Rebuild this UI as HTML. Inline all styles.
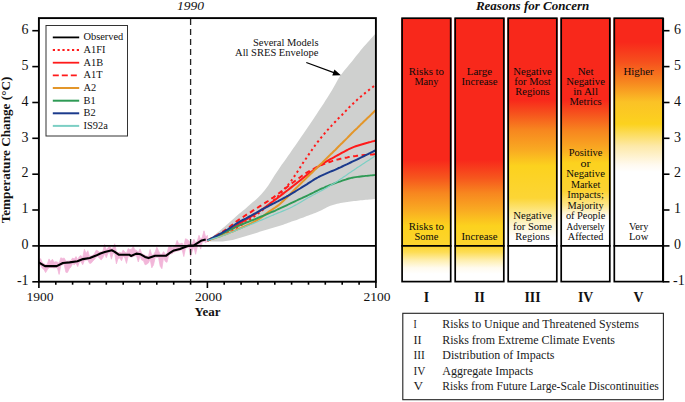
<!DOCTYPE html>
<html><head><meta charset="utf-8"><style>
html,body{margin:0;padding:0;background:#fff;width:685px;height:402px;overflow:hidden}
svg{display:block;font-family:"Liberation Serif",serif}
</style></head><body>
<svg width="685" height="402" viewBox="0 0 685 402">
<defs><linearGradient id="g0" gradientUnits="userSpaceOnUse" x1="0" y1="18" x2="0" y2="246"><stop offset="0.0000" stop-color="#f8281b"/><stop offset="0.6228" stop-color="#f8281b"/><stop offset="0.7018" stop-color="#f6561d"/><stop offset="0.7675" stop-color="#f7861f"/><stop offset="0.8421" stop-color="#f9aa22"/><stop offset="0.9123" stop-color="#fcd21e"/><stop offset="1.0000" stop-color="#fcd52e"/></linearGradient>
<linearGradient id="g1" gradientUnits="userSpaceOnUse" x1="0" y1="18" x2="0" y2="246"><stop offset="0.0000" stop-color="#f8281b"/><stop offset="0.6228" stop-color="#f8281b"/><stop offset="0.7018" stop-color="#f6561d"/><stop offset="0.7675" stop-color="#f7861f"/><stop offset="0.8421" stop-color="#f9aa22"/><stop offset="0.9123" stop-color="#fcd21e"/><stop offset="1.0000" stop-color="#fcd52e"/></linearGradient>
<linearGradient id="g2" gradientUnits="userSpaceOnUse" x1="0" y1="18" x2="0" y2="246"><stop offset="0.0000" stop-color="#f8281b"/><stop offset="0.3596" stop-color="#f8281b"/><stop offset="0.4167" stop-color="#f6501d"/><stop offset="0.4912" stop-color="#f7861f"/><stop offset="0.5789" stop-color="#f9aa22"/><stop offset="0.6491" stop-color="#fcd21e"/><stop offset="0.7895" stop-color="#fcd535"/><stop offset="0.8509" stop-color="#fde88a"/><stop offset="0.9123" stop-color="#fef6d6"/><stop offset="0.9649" stop-color="#ffffff"/><stop offset="1.0000" stop-color="#ffffff"/></linearGradient>
<linearGradient id="g3" gradientUnits="userSpaceOnUse" x1="0" y1="18" x2="0" y2="246"><stop offset="0.0000" stop-color="#f8281b"/><stop offset="0.3596" stop-color="#f8281b"/><stop offset="0.4167" stop-color="#f6501d"/><stop offset="0.4956" stop-color="#f7861f"/><stop offset="0.5746" stop-color="#f9aa22"/><stop offset="0.6360" stop-color="#fcd21e"/><stop offset="0.7588" stop-color="#fcd232"/><stop offset="0.8202" stop-color="#fde68a"/><stop offset="0.8684" stop-color="#fffaee"/><stop offset="0.8947" stop-color="#ffffff"/><stop offset="1.0000" stop-color="#ffffff"/></linearGradient>
<linearGradient id="g4" gradientUnits="userSpaceOnUse" x1="0" y1="18" x2="0" y2="246"><stop offset="0.0000" stop-color="#f8281b"/><stop offset="0.1053" stop-color="#f8281b"/><stop offset="0.1930" stop-color="#f6501d"/><stop offset="0.2807" stop-color="#f7861f"/><stop offset="0.3684" stop-color="#fbc226"/><stop offset="0.4649" stop-color="#fcd21e"/><stop offset="0.5614" stop-color="#fde9a8"/><stop offset="0.6447" stop-color="#fffaf0"/><stop offset="0.6754" stop-color="#ffffff"/><stop offset="1.0000" stop-color="#ffffff"/></linearGradient>
<linearGradient id="gb" gradientUnits="userSpaceOnUse" x1="0" y1="246" x2="0" y2="274"><stop offset="0" stop-color="#fcd52e"/><stop offset="0.22" stop-color="#fddd55"/><stop offset="0.5" stop-color="#feeeac"/><stop offset="0.78" stop-color="#fffbee"/><stop offset="1" stop-color="#fff"/></linearGradient></defs>
<polygon points="207.4,240.5 209.1,239.2 210.8,237.9 212.5,236.5 214.1,235.2 215.8,233.9 217.5,232.5 219.2,231.2 220.9,229.8 222.6,228.3 224.2,226.9 225.9,225.4 227.6,223.9 229.3,222.4 231.0,220.9 232.7,219.4 234.4,217.9 236.0,216.5 237.7,215.1 239.4,213.6 241.1,212.2 242.8,210.8 244.5,209.4 246.2,207.9 247.8,206.5 249.5,205.0 251.2,203.6 252.9,202.1 254.6,200.7 256.3,199.2 257.9,197.7 259.6,196.0 261.3,194.3 263.0,192.3 264.7,190.2 266.4,188.0 268.1,185.7 269.7,183.2 271.4,180.5 273.1,177.7 274.8,175.0 276.5,172.4 278.2,169.9 279.9,167.5 281.5,165.1 283.2,162.8 284.9,160.4 286.6,158.0 288.3,155.6 290.0,153.2 291.6,150.7 293.3,148.3 295.0,145.9 296.7,143.4 298.4,141.0 300.1,138.6 301.8,136.1 303.4,133.7 305.1,131.2 306.8,128.7 308.5,126.2 310.2,123.7 311.9,121.2 313.6,118.7 315.2,116.2 316.9,113.7 318.6,111.1 320.3,108.6 322.0,106.0 323.7,103.4 325.3,100.8 327.0,98.2 328.7,95.5 330.4,92.8 332.1,89.9 333.8,87.0 335.5,83.9 337.1,81.0 338.8,78.1 340.5,75.6 342.2,73.2 343.9,71.0 345.6,68.9 347.3,66.9 348.9,64.9 350.6,62.9 352.3,60.9 354.0,58.8 355.7,56.6 357.4,54.5 359.1,52.4 360.7,50.3 362.4,48.3 364.1,46.3 365.8,44.4 367.5,42.5 369.2,40.7 370.8,38.8 372.5,37.0 374.2,35.1 375.9,33.3 375.9,198.9 374.2,199.1 372.5,199.2 370.8,199.4 369.2,199.5 367.5,199.7 365.8,199.8 364.1,200.0 362.4,200.2 360.7,200.3 359.1,200.5 357.4,200.7 355.7,200.9 354.0,201.1 352.3,201.3 350.6,201.5 348.9,201.8 347.3,202.0 345.6,202.3 343.9,202.5 342.2,202.8 340.5,203.1 338.8,203.5 337.1,203.8 335.5,204.2 333.8,204.7 332.1,205.2 330.4,205.8 328.7,206.5 327.0,207.3 325.3,208.2 323.7,209.1 322.0,209.9 320.3,210.7 318.6,211.5 316.9,212.2 315.2,212.9 313.6,213.5 311.9,214.2 310.2,214.8 308.5,215.5 306.8,216.1 305.1,216.8 303.4,217.4 301.8,218.0 300.1,218.6 298.4,219.3 296.7,219.9 295.0,220.5 293.3,221.0 291.6,221.6 290.0,222.2 288.3,222.8 286.6,223.5 284.9,224.1 283.2,224.7 281.5,225.3 279.9,225.8 278.2,226.3 276.5,226.8 274.8,227.3 273.1,227.7 271.4,228.2 269.7,228.7 268.1,229.2 266.4,229.7 264.7,230.2 263.0,230.8 261.3,231.3 259.6,231.8 257.9,232.4 256.3,232.9 254.6,233.5 252.9,234.0 251.2,234.5 249.5,235.0 247.8,235.5 246.2,236.0 244.5,236.5 242.8,237.0 241.1,237.6 239.4,238.1 237.7,238.6 236.0,239.1 234.4,239.5 232.7,239.9 231.0,240.2 229.3,240.5 227.6,240.8 225.9,241.0 224.2,241.2 222.6,241.4 220.9,241.6 219.2,241.6 217.5,241.6 215.8,241.5 214.1,241.5 212.5,241.4 210.8,241.4 209.1,241.3 207.4,241.2" fill="#cfd0cf"/>
<polygon points="38.9,260.7 40.6,258.6 42.3,262.6 44.0,263.9 45.6,264.6 47.3,264.2 49.0,258.9 50.7,261.6 52.4,259.2 54.1,262.3 55.8,261.7 57.4,262.2 59.1,263.4 60.8,257.8 62.5,258.4 64.2,258.1 65.9,261.2 67.5,261.1 69.2,260.9 70.9,260.7 72.6,258.0 74.3,259.1 76.0,256.6 77.7,259.7 79.3,256.5 81.0,255.5 82.7,257.7 84.4,249.2 86.1,253.6 87.8,250.7 89.5,256.6 91.1,256.0 92.8,255.3 94.5,253.8 96.2,250.2 97.9,250.9 99.6,252.4 101.2,251.7 102.9,251.2 104.6,244.5 106.3,250.2 108.0,247.5 109.7,246.3 111.4,248.9 113.0,247.9 114.7,243.8 116.4,251.5 118.1,252.8 119.8,252.3 121.5,253.2 123.2,249.9 124.8,252.1 126.5,253.2 128.2,248.6 129.9,249.7 131.6,249.2 133.3,246.4 134.9,250.0 136.6,250.4 138.3,252.4 140.0,248.9 141.7,253.4 143.4,254.4 145.1,255.4 146.7,256.0 148.4,256.6 150.1,249.5 151.8,255.3 153.5,254.7 155.2,252.0 156.8,247.2 158.5,250.7 160.2,254.3 161.9,254.3 163.6,251.6 165.3,254.3 167.0,253.5 168.6,247.1 170.3,245.4 172.0,248.1 173.7,246.7 175.4,245.5 177.1,240.4 178.8,243.9 180.4,243.8 182.1,243.1 183.8,245.9 185.5,238.8 187.2,239.5 188.9,240.9 190.6,244.2 192.2,244.0 193.9,239.2 195.6,242.8 197.3,241.2 199.0,235.3 200.7,239.6 202.3,237.2 204.0,230.8 205.7,237.2 207.4,235.3 207.4,240.9 205.7,242.8 204.0,241.3 202.3,241.7 200.7,249.1 199.0,243.6 197.3,246.8 195.6,254.3 193.9,246.8 192.2,250.9 190.6,256.4 188.9,247.3 187.2,247.6 185.5,248.3 183.8,256.5 182.1,249.5 180.4,250.2 178.8,250.7 177.1,251.1 175.4,251.5 173.7,252.3 172.0,253.7 170.3,254.1 168.6,255.3 167.0,262.3 165.3,261.5 163.6,257.3 161.9,268.7 160.2,266.2 158.5,257.3 156.8,257.3 155.2,257.6 153.5,264.9 151.8,267.8 150.1,259.0 148.4,263.0 146.7,264.2 145.1,264.8 143.4,260.5 141.7,260.1 140.0,255.7 138.3,261.9 136.6,256.0 134.9,255.7 133.3,256.5 131.6,257.2 129.9,256.7 128.2,256.2 126.5,263.4 124.8,257.7 123.2,256.2 121.5,260.8 119.8,257.9 118.1,258.4 116.4,263.9 114.7,253.3 113.0,253.5 111.4,259.2 109.7,252.3 108.0,253.1 106.3,257.7 104.6,253.7 102.9,257.6 101.2,259.9 99.6,258.5 97.9,256.5 96.2,257.0 94.5,259.4 92.8,261.0 91.1,263.2 89.5,263.3 87.8,259.8 86.1,260.1 84.4,260.4 82.7,264.7 81.0,261.4 79.3,262.1 77.7,266.6 76.0,263.0 74.3,264.7 72.6,263.6 70.9,266.9 69.2,268.8 67.5,272.4 65.9,272.3 64.2,264.4 62.5,264.7 60.8,265.5 59.1,274.4 57.4,267.8 55.8,267.6 54.1,267.9 52.4,267.6 50.7,267.6 49.0,267.6 47.3,269.8 45.6,272.6 44.0,269.5 42.3,268.2 40.6,265.0 38.9,266.3" fill="#f2b6d9" stroke="#f2b6d9" stroke-width="0.8" stroke-linejoin="round"/>
<polyline points="38.8,262.4 41.6,264.1 45.0,266.1 56.7,266.1 62.9,263.0 69.6,262.4 77.4,261.3 83.0,259.1 89.8,258.0 96.0,255.6 100.4,253.5 104.8,252.1 111.8,250.3 114.4,251.6 118.7,254.7 129.3,254.7 131.0,256.0 136.3,253.6 140.7,254.3 145.0,256.9 148.5,258.1 152.9,256.4 155.0,255.8 165.9,255.8 169.9,252.9 173.9,250.4 179.9,248.9 183.8,247.4 187.8,245.9 193.8,245.4 197.8,242.9 201.7,240.4 205.7,239.4" fill="none" stroke="#000" stroke-width="2.1" stroke-linejoin="round"/>
<polyline points="207.4,240.5 209.1,239.9 210.8,239.3 212.5,238.7 214.1,238.0 215.8,237.4 217.5,236.8 219.2,236.2 220.9,235.5 222.6,234.8 224.2,234.1 225.9,233.3 227.6,232.5 229.3,231.7 231.0,230.8 232.7,229.9 234.4,229.0 236.0,228.0 237.7,227.1 239.4,226.1 241.1,225.1 242.8,224.1 244.5,223.0 246.2,221.9 247.8,220.8 249.5,219.7 251.2,218.5 252.9,217.3 254.6,216.1 256.3,214.9 257.9,213.6 259.6,212.3 261.3,211.0 263.0,209.7 264.7,208.3 266.4,206.9 268.1,205.4 269.7,203.9 271.4,202.4 273.1,200.9 274.8,199.3 276.5,197.6 278.2,195.9 279.9,194.1 281.5,192.3 283.2,190.4 284.9,188.5 286.6,186.6 288.3,184.6 290.0,182.5 291.6,180.3 293.3,177.9 295.0,175.4 296.7,172.8 298.4,170.2 300.1,167.5 301.8,164.9 303.4,162.3 305.1,159.9 306.8,157.4 308.5,154.9 310.2,152.4 311.9,150.0 313.6,147.6 315.2,145.3 316.9,143.0 318.6,140.8 320.3,138.7 322.0,136.6 323.7,134.6 325.3,132.6 327.0,130.7 328.7,128.8 330.4,126.9 332.1,125.1 333.8,123.3 335.5,121.5 337.1,119.7 338.8,118.1 340.5,116.4 342.2,114.7 343.9,112.9 345.6,111.1 347.3,109.4 348.9,107.6 350.6,105.9 352.3,104.3 354.0,102.7 355.7,101.1 357.4,99.6 359.1,98.2 360.7,96.7 362.4,95.3 364.1,93.9 365.8,92.5 367.5,91.2 369.2,89.8 370.8,88.5 372.5,87.2 374.2,85.9 375.9,84.5" fill="none" stroke="#ff1a1a" stroke-width="2.0" stroke-linecap="butt" stroke-linejoin="round" stroke-dasharray="2.2,3.0"/>
<polyline points="207.4,240.5 209.1,239.7 210.8,239.0 212.5,238.2 214.1,237.5 215.8,236.7 217.5,235.9 219.2,235.1 220.9,234.3 222.6,233.5 224.2,232.6 225.9,231.7 227.6,230.8 229.3,229.8 231.0,228.8 232.7,227.8 234.4,226.8 236.0,225.7 237.7,224.7 239.4,223.7 241.1,222.7 242.8,221.6 244.5,220.6 246.2,219.6 247.8,218.6 249.5,217.6 251.2,216.5 252.9,215.5 254.6,214.4 256.3,213.3 257.9,212.2 259.6,211.1 261.3,209.9 263.0,208.7 264.7,207.5 266.4,206.3 268.1,205.0 269.7,203.8 271.4,202.5 273.1,201.3 274.8,200.0 276.5,198.7 278.2,197.5 279.9,196.2 281.5,194.9 283.2,193.6 284.9,192.3 286.6,191.0 288.3,189.7 290.0,188.4 291.6,187.1 293.3,185.8 295.0,184.4 296.7,183.1 298.4,181.8 300.1,180.4 301.8,179.1 303.4,177.7 305.1,176.4 306.8,175.1 308.5,173.8 310.2,172.5 311.9,171.3 313.6,170.0 315.2,168.7 316.9,167.5 318.6,166.3 320.3,165.2 322.0,164.1 323.7,163.1 325.3,162.1 327.0,161.1 328.7,160.1 330.4,159.2 332.1,158.3 333.8,157.4 335.5,156.4 337.1,155.5 338.8,154.6 340.5,153.7 342.2,152.7 343.9,151.8 345.6,150.9 347.3,150.0 348.9,149.1 350.6,148.3 352.3,147.6 354.0,146.9 355.7,146.3 357.4,145.7 359.1,145.2 360.7,144.7 362.4,144.2 364.1,143.7 365.8,143.2 367.5,142.8 369.2,142.3 370.8,141.9 372.5,141.4 374.2,141.0 375.9,140.5" fill="none" stroke="#ff1a1a" stroke-width="2.0" stroke-linecap="butt" stroke-linejoin="round"/>
<polyline points="207.4,240.5 209.1,239.6 210.8,238.6 212.5,237.7 214.1,236.8 215.8,235.8 217.5,234.9 219.2,233.9 220.9,232.9 222.6,231.9 224.2,230.8 225.9,229.7 227.6,228.5 229.3,227.2 231.0,225.8 232.7,224.5 234.4,223.2 236.0,221.8 237.7,220.6 239.4,219.4 241.1,218.2 242.8,217.1 244.5,216.0 246.2,214.9 247.8,213.9 249.5,212.8 251.2,211.8 252.9,210.7 254.6,209.7 256.3,208.6 257.9,207.5 259.6,206.4 261.3,205.4 263.0,204.3 264.7,203.2 266.4,202.1 268.1,201.0 269.7,199.9 271.4,198.7 273.1,197.6 274.8,196.4 276.5,195.2 278.2,193.9 279.9,192.6 281.5,191.3 283.2,190.0 284.9,188.7 286.6,187.4 288.3,186.0 290.0,184.8 291.6,183.5 293.3,182.3 295.0,181.0 296.7,179.7 298.4,178.5 300.1,177.3 301.8,176.0 303.4,174.9 305.1,173.7 306.8,172.7 308.5,171.7 310.2,170.7 311.9,169.8 313.6,168.9 315.2,168.0 316.9,167.1 318.6,166.3 320.3,165.5 322.0,164.8 323.7,164.1 325.3,163.4 327.0,162.8 328.7,162.2 330.4,161.7 332.1,161.1 333.8,160.6 335.5,160.1 337.1,159.6 338.8,159.2 340.5,158.8 342.2,158.4 343.9,158.0 345.6,157.7 347.3,157.4 348.9,157.0 350.6,156.7 352.3,156.5 354.0,156.2 355.7,156.0 357.4,155.7 359.1,155.5 360.7,155.4 362.4,155.2 364.1,155.0 365.8,154.9 367.5,154.8 369.2,154.6 370.8,154.5 372.5,154.4 374.2,154.2 375.9,154.1" fill="none" stroke="#ff1a1a" stroke-width="2.0" stroke-linecap="butt" stroke-linejoin="round" stroke-dasharray="5,3.5"/>
<polyline points="207.4,240.5 209.1,240.0 210.8,239.4 212.5,238.8 214.1,238.3 215.8,237.7 217.5,237.1 219.2,236.6 220.9,236.0 222.6,235.4 224.2,234.8 225.9,234.2 227.6,233.5 229.3,232.9 231.0,232.2 232.7,231.5 234.4,230.8 236.0,230.1 237.7,229.4 239.4,228.7 241.1,228.0 242.8,227.2 244.5,226.5 246.2,225.7 247.8,225.0 249.5,224.2 251.2,223.3 252.9,222.5 254.6,221.6 256.3,220.7 257.9,219.7 259.6,218.7 261.3,217.5 263.0,216.2 264.7,214.9 266.4,213.6 268.1,212.3 269.7,211.1 271.4,210.0 273.1,208.9 274.8,207.8 276.5,206.6 278.2,205.4 279.9,204.0 281.5,202.5 283.2,200.9 284.9,199.3 286.6,197.7 288.3,196.0 290.0,194.3 291.6,192.6 293.3,190.9 295.0,189.2 296.7,187.6 298.4,185.9 300.1,184.2 301.8,182.6 303.4,180.9 305.1,179.3 306.8,177.6 308.5,176.0 310.2,174.3 311.9,172.7 313.6,171.0 315.2,169.4 316.9,167.8 318.6,166.1 320.3,164.5 322.0,162.9 323.7,161.2 325.3,159.6 327.0,157.9 328.7,156.3 330.4,154.6 332.1,153.0 333.8,151.3 335.5,149.7 337.1,148.0 338.8,146.3 340.5,144.6 342.2,143.0 343.9,141.3 345.6,139.6 347.3,137.9 348.9,136.2 350.6,134.5 352.3,132.8 354.0,131.1 355.7,129.5 357.4,127.9 359.1,126.2 360.7,124.6 362.4,123.0 364.1,121.3 365.8,119.7 367.5,118.1 369.2,116.5 370.8,114.9 372.5,113.2 374.2,111.6 375.9,110.0" fill="none" stroke="#e3962a" stroke-width="2.0" stroke-linecap="butt" stroke-linejoin="round"/>
<polyline points="207.4,240.5 209.1,239.7 210.8,238.9 212.5,238.2 214.1,237.4 215.8,236.6 217.5,235.8 219.2,235.0 220.9,234.2 222.6,233.4 224.2,232.6 225.9,231.8 227.6,231.0 229.3,230.2 231.0,229.4 232.7,228.6 234.4,227.8 236.0,227.0 237.7,226.2 239.4,225.5 241.1,224.7 242.8,224.0 244.5,223.3 246.2,222.6 247.8,222.0 249.5,221.3 251.2,220.6 252.9,220.0 254.6,219.3 256.3,218.6 257.9,217.9 259.6,217.2 261.3,216.5 263.0,215.8 264.7,215.1 266.4,214.4 268.1,213.7 269.7,213.0 271.4,212.2 273.1,211.5 274.8,210.8 276.5,210.0 278.2,209.2 279.9,208.4 281.5,207.7 283.2,206.9 284.9,206.1 286.6,205.3 288.3,204.5 290.0,203.7 291.6,202.9 293.3,202.1 295.0,201.3 296.7,200.5 298.4,199.7 300.1,198.9 301.8,198.2 303.4,197.4 305.1,196.6 306.8,195.8 308.5,195.0 310.2,194.2 311.9,193.3 313.6,192.5 315.2,191.6 316.9,190.8 318.6,190.0 320.3,189.2 322.0,188.5 323.7,187.8 325.3,187.0 327.0,186.3 328.7,185.6 330.4,184.9 332.1,184.3 333.8,183.6 335.5,183.0 337.1,182.4 338.8,181.8 340.5,181.3 342.2,180.7 343.9,180.1 345.6,179.6 347.3,179.0 348.9,178.5 350.6,178.1 352.3,177.7 354.0,177.4 355.7,177.1 357.4,176.9 359.1,176.7 360.7,176.5 362.4,176.3 364.1,176.1 365.8,175.9 367.5,175.8 369.2,175.6 370.8,175.4 372.5,175.3 374.2,175.1 375.9,174.9" fill="none" stroke="#2e9a55" stroke-width="1.9" stroke-linecap="butt" stroke-linejoin="round"/>
<polyline points="207.4,240.5 209.1,239.6 210.8,238.8 212.5,237.9 214.1,237.0 215.8,236.1 217.5,235.3 219.2,234.4 220.9,233.5 222.6,232.5 224.2,231.6 225.9,230.5 227.6,229.5 229.3,228.4 231.0,227.3 232.7,226.1 234.4,225.0 236.0,223.9 237.7,222.9 239.4,221.9 241.1,220.9 242.8,220.0 244.5,219.1 246.2,218.3 247.8,217.4 249.5,216.5 251.2,215.6 252.9,214.6 254.6,213.7 256.3,212.8 257.9,211.8 259.6,210.9 261.3,209.9 263.0,209.0 264.7,208.1 266.4,207.2 268.1,206.3 269.7,205.4 271.4,204.5 273.1,203.7 274.8,202.8 276.5,201.9 278.2,201.1 279.9,200.2 281.5,199.3 283.2,198.4 284.9,197.5 286.6,196.5 288.3,195.6 290.0,194.6 291.6,193.6 293.3,192.6 295.0,191.6 296.7,190.5 298.4,189.5 300.1,188.5 301.8,187.4 303.4,186.4 305.1,185.3 306.8,184.3 308.5,183.2 310.2,182.1 311.9,181.0 313.6,179.9 315.2,178.9 316.9,178.0 318.6,177.0 320.3,176.2 322.0,175.4 323.7,174.6 325.3,173.9 327.0,173.1 328.7,172.4 330.4,171.7 332.1,171.0 333.8,170.3 335.5,169.6 337.1,168.8 338.8,168.0 340.5,167.3 342.2,166.5 343.9,165.7 345.6,164.9 347.3,164.1 348.9,163.3 350.6,162.5 352.3,161.7 354.0,160.9 355.7,160.1 357.4,159.3 359.1,158.5 360.7,157.6 362.4,156.8 364.1,156.0 365.8,155.1 367.5,154.3 369.2,153.5 370.8,152.6 372.5,151.8 374.2,151.0 375.9,150.2" fill="none" stroke="#1b3a8c" stroke-width="2.0" stroke-linecap="butt" stroke-linejoin="round"/>
<polyline points="207.4,240.5 209.1,240.0 210.8,239.5 212.5,238.9 214.1,238.4 215.8,237.9 217.5,237.4 219.2,236.8 220.9,236.3 222.6,235.7 224.2,235.1 225.9,234.5 227.6,233.9 229.3,233.2 231.0,232.5 232.7,231.8 234.4,231.1 236.0,230.4 237.7,229.7 239.4,229.0 241.1,228.4 242.8,227.7 244.5,227.0 246.2,226.3 247.8,225.6 249.5,225.0 251.2,224.3 252.9,223.6 254.6,222.9 256.3,222.2 257.9,221.5 259.6,220.8 261.3,220.1 263.0,219.4 264.7,218.7 266.4,217.9 268.1,217.2 269.7,216.5 271.4,215.8 273.1,215.1 274.8,214.3 276.5,213.6 278.2,212.9 279.9,212.3 281.5,211.6 283.2,210.9 284.9,210.2 286.6,209.5 288.3,208.7 290.0,208.0 291.6,207.2 293.3,206.3 295.0,205.4 296.7,204.5 298.4,203.5 300.1,202.5 301.8,201.4 303.4,200.4 305.1,199.4 306.8,198.4 308.5,197.5 310.2,196.6 311.9,195.7 313.6,194.8 315.2,193.9 316.9,193.0 318.6,192.2 320.3,191.3 322.0,190.4 323.7,189.5 325.3,188.5 327.0,187.6 328.7,186.6 330.4,185.6 332.1,184.5 333.8,183.5 335.5,182.4 337.1,181.4 338.8,180.3 340.5,179.1 342.2,178.0 343.9,176.8 345.6,175.7 347.3,174.5 348.9,173.3 350.6,172.2 352.3,171.0 354.0,169.9 355.7,168.8 357.4,167.6 359.1,166.5 360.7,165.4 362.4,164.3 364.1,163.2 365.8,162.1 367.5,161.0 369.2,159.9 370.8,158.8 372.5,157.7 374.2,156.6 375.9,155.5" fill="none" stroke="#7ccfc4" stroke-width="1.2" stroke-linecap="butt" stroke-linejoin="round"/>
<line x1="38.9" y1="245.9" x2="375.9" y2="245.9" stroke="#000" stroke-width="1.9"/>
<line x1="190.6" y1="19" x2="190.6" y2="281" stroke="#222" stroke-width="1.3" stroke-dasharray="6,4"/>
<rect x="38.9" y="18.1" width="337" height="263.6" fill="none" stroke="#000" stroke-width="1.9"/>
<line x1="32.3" y1="281.8" x2="38.9" y2="281.8" stroke="#000" stroke-width="1.6"/>
<text x="28.6" y="285.0" font-family="Liberation Serif" font-size="14" text-anchor="end" fill="#111">-1</text>
<line x1="32.3" y1="245.9" x2="38.9" y2="245.9" stroke="#000" stroke-width="1.6"/>
<text x="28.6" y="249.1" font-family="Liberation Serif" font-size="14" text-anchor="end" fill="#111">0</text>
<line x1="32.3" y1="210.0" x2="38.9" y2="210.0" stroke="#000" stroke-width="1.6"/>
<text x="28.6" y="213.2" font-family="Liberation Serif" font-size="14" text-anchor="end" fill="#111">1</text>
<line x1="32.3" y1="174.2" x2="38.9" y2="174.2" stroke="#000" stroke-width="1.6"/>
<text x="28.6" y="177.4" font-family="Liberation Serif" font-size="14" text-anchor="end" fill="#111">2</text>
<line x1="32.3" y1="138.3" x2="38.9" y2="138.3" stroke="#000" stroke-width="1.6"/>
<text x="28.6" y="141.5" font-family="Liberation Serif" font-size="14" text-anchor="end" fill="#111">3</text>
<line x1="32.3" y1="102.5" x2="38.9" y2="102.5" stroke="#000" stroke-width="1.6"/>
<text x="28.6" y="105.7" font-family="Liberation Serif" font-size="14" text-anchor="end" fill="#111">4</text>
<line x1="32.3" y1="66.6" x2="38.9" y2="66.6" stroke="#000" stroke-width="1.6"/>
<text x="28.6" y="69.8" font-family="Liberation Serif" font-size="14" text-anchor="end" fill="#111">5</text>
<line x1="32.3" y1="30.7" x2="38.9" y2="30.7" stroke="#000" stroke-width="1.6"/>
<text x="28.6" y="33.9" font-family="Liberation Serif" font-size="14" text-anchor="end" fill="#111">6</text>
<line x1="38.9" y1="281.7" x2="38.9" y2="288.0" stroke="#000" stroke-width="1.6"/>
<line x1="55.8" y1="281.7" x2="55.8" y2="284.7" stroke="#000" stroke-width="1.6"/>
<line x1="72.6" y1="281.7" x2="72.6" y2="284.7" stroke="#000" stroke-width="1.6"/>
<line x1="89.5" y1="281.7" x2="89.5" y2="284.7" stroke="#000" stroke-width="1.6"/>
<line x1="106.3" y1="281.7" x2="106.3" y2="284.7" stroke="#000" stroke-width="1.6"/>
<line x1="123.2" y1="281.7" x2="123.2" y2="284.7" stroke="#000" stroke-width="1.6"/>
<line x1="140.0" y1="281.7" x2="140.0" y2="284.7" stroke="#000" stroke-width="1.6"/>
<line x1="156.8" y1="281.7" x2="156.8" y2="284.7" stroke="#000" stroke-width="1.6"/>
<line x1="173.7" y1="281.7" x2="173.7" y2="284.7" stroke="#000" stroke-width="1.6"/>
<line x1="190.6" y1="281.7" x2="190.6" y2="284.7" stroke="#000" stroke-width="1.6"/>
<line x1="207.4" y1="281.7" x2="207.4" y2="288.0" stroke="#000" stroke-width="1.6"/>
<line x1="224.2" y1="281.7" x2="224.2" y2="284.7" stroke="#000" stroke-width="1.6"/>
<line x1="241.1" y1="281.7" x2="241.1" y2="284.7" stroke="#000" stroke-width="1.6"/>
<line x1="257.9" y1="281.7" x2="257.9" y2="284.7" stroke="#000" stroke-width="1.6"/>
<line x1="274.8" y1="281.7" x2="274.8" y2="284.7" stroke="#000" stroke-width="1.6"/>
<line x1="291.6" y1="281.7" x2="291.6" y2="284.7" stroke="#000" stroke-width="1.6"/>
<line x1="308.5" y1="281.7" x2="308.5" y2="284.7" stroke="#000" stroke-width="1.6"/>
<line x1="325.3" y1="281.7" x2="325.3" y2="284.7" stroke="#000" stroke-width="1.6"/>
<line x1="342.2" y1="281.7" x2="342.2" y2="284.7" stroke="#000" stroke-width="1.6"/>
<line x1="359.1" y1="281.7" x2="359.1" y2="284.7" stroke="#000" stroke-width="1.6"/>
<line x1="375.9" y1="281.7" x2="375.9" y2="288.0" stroke="#000" stroke-width="1.6"/>
<text x="39.9" y="301.4" font-family="Liberation Serif" font-size="13.5" text-anchor="middle" fill="#111">1900</text>
<text x="208.4" y="301.4" font-family="Liberation Serif" font-size="13.5" text-anchor="middle" fill="#111">2000</text>
<text x="376.9" y="301.4" font-family="Liberation Serif" font-size="13.5" text-anchor="middle" fill="#111">2100</text>
<text x="207.6" y="315.5" font-family="Liberation Serif" font-size="13" font-weight="bold" text-anchor="middle" fill="#111">Year</text>
<text x="190.6" y="9.6" font-family="Liberation Serif" font-size="13.5" font-style="italic" text-anchor="middle" fill="#111">1990</text>
<text transform="translate(10.1,150) rotate(-90)" font-family="Liberation Serif" font-size="13.2" font-weight="bold" text-anchor="middle" fill="#111">Temperature Change (°C)</text>
<rect x="46" y="25.5" width="81.5" height="110.5" fill="#fff" stroke="#333" stroke-width="1"/>
<line x1="52.8" y1="37.4" x2="79.2" y2="37.4" stroke="#000" stroke-width="1.8"/>
<text x="83.5" y="40.2" font-family="Liberation Serif" font-size="10.4" fill="#111">Observed</text>
<line x1="52.8" y1="50.0" x2="79.2" y2="50.0" stroke="#ff1a1a" stroke-width="1.8" stroke-dasharray="2.2,2.6"/>
<text x="83.5" y="52.8" font-family="Liberation Serif" font-size="10.4" fill="#111">A1FI</text>
<line x1="52.8" y1="62.7" x2="79.2" y2="62.7" stroke="#ff1a1a" stroke-width="1.8"/>
<text x="83.5" y="65.5" font-family="Liberation Serif" font-size="10.4" fill="#111">A1B</text>
<line x1="52.8" y1="75.3" x2="79.2" y2="75.3" stroke="#ff1a1a" stroke-width="1.8" stroke-dasharray="6,3"/>
<text x="83.5" y="78.1" font-family="Liberation Serif" font-size="10.4" fill="#111">A1T</text>
<line x1="52.8" y1="88.0" x2="79.2" y2="88.0" stroke="#e3962a" stroke-width="2"/>
<text x="83.5" y="90.8" font-family="Liberation Serif" font-size="10.4" fill="#111">A2</text>
<line x1="52.8" y1="100.7" x2="79.2" y2="100.7" stroke="#2e9a55" stroke-width="2"/>
<text x="83.5" y="103.5" font-family="Liberation Serif" font-size="10.4" fill="#111">B1</text>
<line x1="52.8" y1="113.3" x2="79.2" y2="113.3" stroke="#1b3a8c" stroke-width="2"/>
<text x="83.5" y="116.1" font-family="Liberation Serif" font-size="10.4" fill="#111">B2</text>
<line x1="52.8" y1="125.9" x2="79.2" y2="125.9" stroke="#7ccfc4" stroke-width="2"/>
<text x="83.5" y="128.8" font-family="Liberation Serif" font-size="10.4" fill="#111">IS92a</text>
<text x="318.5" y="45.7" font-family="Liberation Serif" font-size="10.5" text-anchor="end" fill="#111">Several Models</text>
<text x="318.5" y="56" font-family="Liberation Serif" font-size="10.5" text-anchor="end" fill="#111">All SRES Envelope</text>
<line x1="306.3" y1="62.5" x2="334.5" y2="72.8" stroke="#000" stroke-width="1.3"/>
<polygon points="340.9,75.2 332.3,75.4 334.4,69.6" fill="#000"/>
<rect x="401.3" y="18.2" width="50.2" height="228" fill="url(#g0)"/>
<rect x="401.3" y="246" width="50.2" height="35" fill="url(#gb)"/>
<rect x="402.1" y="18.2" width="48.6" height="263.4" fill="none" stroke="#000" stroke-width="1.7"/>
<line x1="401.3" y1="245.9" x2="451.5" y2="245.9" stroke="#000" stroke-width="1.7"/>
<rect x="454.4" y="18.2" width="50.2" height="228" fill="url(#g1)"/>
<rect x="454.4" y="246" width="50.2" height="35" fill="url(#gb)"/>
<rect x="455.2" y="18.2" width="48.6" height="263.4" fill="none" stroke="#000" stroke-width="1.7"/>
<line x1="454.4" y1="245.9" x2="504.6" y2="245.9" stroke="#000" stroke-width="1.7"/>
<rect x="507.4" y="18.2" width="50.2" height="228" fill="url(#g2)"/>
<rect x="508.2" y="18.2" width="48.6" height="263.4" fill="none" stroke="#000" stroke-width="1.7"/>
<line x1="507.4" y1="245.9" x2="557.6" y2="245.9" stroke="#000" stroke-width="1.7"/>
<rect x="560.5" y="18.2" width="50.2" height="228" fill="url(#g3)"/>
<rect x="561.2" y="18.2" width="48.6" height="263.4" fill="none" stroke="#000" stroke-width="1.7"/>
<line x1="560.5" y1="245.9" x2="610.7" y2="245.9" stroke="#000" stroke-width="1.7"/>
<rect x="613.5" y="18.2" width="50.2" height="228" fill="url(#g4)"/>
<rect x="614.3" y="18.2" width="48.6" height="263.4" fill="none" stroke="#000" stroke-width="1.7"/>
<line x1="613.5" y1="245.9" x2="663.7" y2="245.9" stroke="#000" stroke-width="1.7"/>
<line x1="663.2" y1="18" x2="663.2" y2="282.3" stroke="#000" stroke-width="1.8"/>
<line x1="663.2" y1="281.8" x2="669.5" y2="281.8" stroke="#000" stroke-width="1.6"/>
<text x="673" y="285.0" font-family="Liberation Serif" font-size="14" fill="#111">-1</text>
<line x1="663.2" y1="245.9" x2="669.5" y2="245.9" stroke="#000" stroke-width="1.6"/>
<text x="674" y="249.1" font-family="Liberation Serif" font-size="14" fill="#111">0</text>
<line x1="663.2" y1="210.0" x2="669.5" y2="210.0" stroke="#000" stroke-width="1.6"/>
<text x="674" y="213.2" font-family="Liberation Serif" font-size="14" fill="#111">1</text>
<line x1="663.2" y1="174.2" x2="669.5" y2="174.2" stroke="#000" stroke-width="1.6"/>
<text x="674" y="177.4" font-family="Liberation Serif" font-size="14" fill="#111">2</text>
<line x1="663.2" y1="138.3" x2="669.5" y2="138.3" stroke="#000" stroke-width="1.6"/>
<text x="674" y="141.5" font-family="Liberation Serif" font-size="14" fill="#111">3</text>
<line x1="663.2" y1="102.5" x2="669.5" y2="102.5" stroke="#000" stroke-width="1.6"/>
<text x="674" y="105.7" font-family="Liberation Serif" font-size="14" fill="#111">4</text>
<line x1="663.2" y1="66.6" x2="669.5" y2="66.6" stroke="#000" stroke-width="1.6"/>
<text x="674" y="69.8" font-family="Liberation Serif" font-size="14" fill="#111">5</text>
<line x1="663.2" y1="30.7" x2="669.5" y2="30.7" stroke="#000" stroke-width="1.6"/>
<text x="674" y="33.9" font-family="Liberation Serif" font-size="14" fill="#111">6</text>
<text x="532.6" y="9.9" font-family="Liberation Serif" font-size="13" font-weight="bold" font-style="italic" text-anchor="middle" fill="#111">Reasons for Concern</text>
<text x="426.4" y="74.7" font-family="Liberation Serif" font-size="10.6" text-anchor="middle" fill="#0a0a0a" textLength="35.3" lengthAdjust="spacingAndGlyphs">Risks to</text>
<text x="426.4" y="85.0" font-family="Liberation Serif" font-size="10.6" text-anchor="middle" fill="#0a0a0a" textLength="24.0" lengthAdjust="spacingAndGlyphs">Many</text>
<text x="479.5" y="74.7" font-family="Liberation Serif" font-size="10.6" text-anchor="middle" fill="#0a0a0a" textLength="25.6" lengthAdjust="spacingAndGlyphs">Large</text>
<text x="479.5" y="85.0" font-family="Liberation Serif" font-size="10.6" text-anchor="middle" fill="#0a0a0a" textLength="36.0" lengthAdjust="spacingAndGlyphs">Increase</text>
<text x="532.5" y="74.8" font-family="Liberation Serif" font-size="10.6" text-anchor="middle" fill="#0a0a0a" textLength="38.7" lengthAdjust="spacingAndGlyphs">Negative</text>
<text x="532.5" y="84.9" font-family="Liberation Serif" font-size="10.6" text-anchor="middle" fill="#0a0a0a" textLength="36.4" lengthAdjust="spacingAndGlyphs">for Most</text>
<text x="532.5" y="95.0" font-family="Liberation Serif" font-size="10.6" text-anchor="middle" fill="#0a0a0a" textLength="34.4" lengthAdjust="spacingAndGlyphs">Regions</text>
<text x="585.6" y="74.8" font-family="Liberation Serif" font-size="10.6" text-anchor="middle" fill="#0a0a0a" textLength="15.9" lengthAdjust="spacingAndGlyphs">Net</text>
<text x="585.6" y="85.0" font-family="Liberation Serif" font-size="10.6" text-anchor="middle" fill="#0a0a0a" textLength="38.7" lengthAdjust="spacingAndGlyphs">Negative</text>
<text x="585.6" y="95.2" font-family="Liberation Serif" font-size="10.6" text-anchor="middle" fill="#0a0a0a" textLength="24.8" lengthAdjust="spacingAndGlyphs">in All</text>
<text x="585.6" y="105.4" font-family="Liberation Serif" font-size="10.6" text-anchor="middle" fill="#0a0a0a" textLength="32.3" lengthAdjust="spacingAndGlyphs">Metrics</text>
<text x="638.6" y="74.5" font-family="Liberation Serif" font-size="10.6" text-anchor="middle" fill="#0a0a0a" textLength="30.3" lengthAdjust="spacingAndGlyphs">Higher</text>
<text x="426.4" y="230.0" font-family="Liberation Serif" font-size="10.6" text-anchor="middle" fill="#0a0a0a" textLength="35.3" lengthAdjust="spacingAndGlyphs">Risks to</text>
<text x="426.4" y="240.3" font-family="Liberation Serif" font-size="10.6" text-anchor="middle" fill="#0a0a0a" textLength="23.9" lengthAdjust="spacingAndGlyphs">Some</text>
<text x="479.5" y="240.3" font-family="Liberation Serif" font-size="10.6" text-anchor="middle" fill="#0a0a0a" textLength="36.0" lengthAdjust="spacingAndGlyphs">Increase</text>
<text x="532.5" y="219.1" font-family="Liberation Serif" font-size="10.6" text-anchor="middle" fill="#0a0a0a" textLength="38.7" lengthAdjust="spacingAndGlyphs">Negative</text>
<text x="532.5" y="229.5" font-family="Liberation Serif" font-size="10.6" text-anchor="middle" fill="#0a0a0a" textLength="39.2" lengthAdjust="spacingAndGlyphs">for Some</text>
<text x="532.5" y="239.9" font-family="Liberation Serif" font-size="10.6" text-anchor="middle" fill="#0a0a0a" textLength="34.4" lengthAdjust="spacingAndGlyphs">Regions</text>
<text x="585.6" y="156.4" font-family="Liberation Serif" font-size="10.6" text-anchor="middle" fill="#0a0a0a" textLength="33.8" lengthAdjust="spacingAndGlyphs">Positive</text>
<text x="585.6" y="166.8" font-family="Liberation Serif" font-size="10.6" text-anchor="middle" fill="#0a0a0a" textLength="10.0" lengthAdjust="spacingAndGlyphs">or</text>
<text x="585.6" y="177.3" font-family="Liberation Serif" font-size="10.6" text-anchor="middle" fill="#0a0a0a" textLength="38.7" lengthAdjust="spacingAndGlyphs">Negative</text>
<text x="585.6" y="187.8" font-family="Liberation Serif" font-size="10.6" text-anchor="middle" fill="#0a0a0a" textLength="29.3" lengthAdjust="spacingAndGlyphs">Market</text>
<text x="585.6" y="198.2" font-family="Liberation Serif" font-size="10.6" text-anchor="middle" fill="#0a0a0a" textLength="36.6" lengthAdjust="spacingAndGlyphs">Impacts;</text>
<text x="585.6" y="208.7" font-family="Liberation Serif" font-size="10.6" text-anchor="middle" fill="#0a0a0a" textLength="36.1" lengthAdjust="spacingAndGlyphs">Majority</text>
<text x="585.6" y="219.1" font-family="Liberation Serif" font-size="10.6" text-anchor="middle" fill="#0a0a0a" textLength="39.3" lengthAdjust="spacingAndGlyphs">of People</text>
<text x="585.6" y="229.6" font-family="Liberation Serif" font-size="10.6" text-anchor="middle" fill="#0a0a0a" textLength="38.2" lengthAdjust="spacingAndGlyphs">Adversely</text>
<text x="585.6" y="240.0" font-family="Liberation Serif" font-size="10.6" text-anchor="middle" fill="#0a0a0a" textLength="35.5" lengthAdjust="spacingAndGlyphs">Affected</text>
<text x="638.6" y="229.8" font-family="Liberation Serif" font-size="10.6" text-anchor="middle" fill="#0a0a0a" textLength="19.4" lengthAdjust="spacingAndGlyphs">Very</text>
<text x="638.6" y="239.9" font-family="Liberation Serif" font-size="10.6" text-anchor="middle" fill="#0a0a0a" textLength="19.4" lengthAdjust="spacingAndGlyphs">Low</text>
<text x="426.4" y="301.6" font-family="Liberation Serif" font-size="13.8" font-weight="bold" text-anchor="middle" fill="#111">I</text>
<text x="479.5" y="301.6" font-family="Liberation Serif" font-size="13.8" font-weight="bold" text-anchor="middle" fill="#111">II</text>
<text x="532.5" y="301.6" font-family="Liberation Serif" font-size="13.8" font-weight="bold" text-anchor="middle" fill="#111">III</text>
<text x="585.6" y="301.6" font-family="Liberation Serif" font-size="13.8" font-weight="bold" text-anchor="middle" fill="#111">IV</text>
<text x="638.6" y="301.6" font-family="Liberation Serif" font-size="13.8" font-weight="bold" text-anchor="middle" fill="#111">V</text>
<rect x="402.8" y="313.3" width="260.6" height="86.4" fill="none" stroke="#222" stroke-width="1.1"/>
<text x="413.4" y="328.4" font-family="Liberation Serif" font-size="13.4" fill="#1a1a1a" textLength="3.2" lengthAdjust="spacingAndGlyphs">I</text>
<text x="442.3" y="328.4" font-family="Liberation Serif" font-size="13.4" fill="#1a1a1a" textLength="196.5" lengthAdjust="spacingAndGlyphs">Risks to Unique and Threatened Systems</text>
<text x="413.4" y="343.9" font-family="Liberation Serif" font-size="13.4" fill="#1a1a1a" textLength="8.2" lengthAdjust="spacingAndGlyphs">II</text>
<text x="442.3" y="343.9" font-family="Liberation Serif" font-size="13.4" fill="#1a1a1a" textLength="172.6" lengthAdjust="spacingAndGlyphs">Risks from Extreme Climate Events</text>
<text x="413.4" y="359.4" font-family="Liberation Serif" font-size="13.4" fill="#1a1a1a" textLength="11.4" lengthAdjust="spacingAndGlyphs">III</text>
<text x="442.3" y="359.4" font-family="Liberation Serif" font-size="13.4" fill="#1a1a1a" textLength="112.1" lengthAdjust="spacingAndGlyphs">Distribution of Impacts</text>
<text x="413.4" y="374.9" font-family="Liberation Serif" font-size="13.4" fill="#1a1a1a" textLength="11.9" lengthAdjust="spacingAndGlyphs">IV</text>
<text x="442.3" y="374.9" font-family="Liberation Serif" font-size="13.4" fill="#1a1a1a" textLength="90.9" lengthAdjust="spacingAndGlyphs">Aggregate Impacts</text>
<text x="413.4" y="390.4" font-family="Liberation Serif" font-size="13.4" fill="#1a1a1a" textLength="9.6" lengthAdjust="spacingAndGlyphs">V</text>
<text x="442.3" y="390.4" font-family="Liberation Serif" font-size="13.4" fill="#1a1a1a" textLength="216.6" lengthAdjust="spacingAndGlyphs">Risks from Future Large-Scale Discontinuities</text>
</svg>
</body></html>
